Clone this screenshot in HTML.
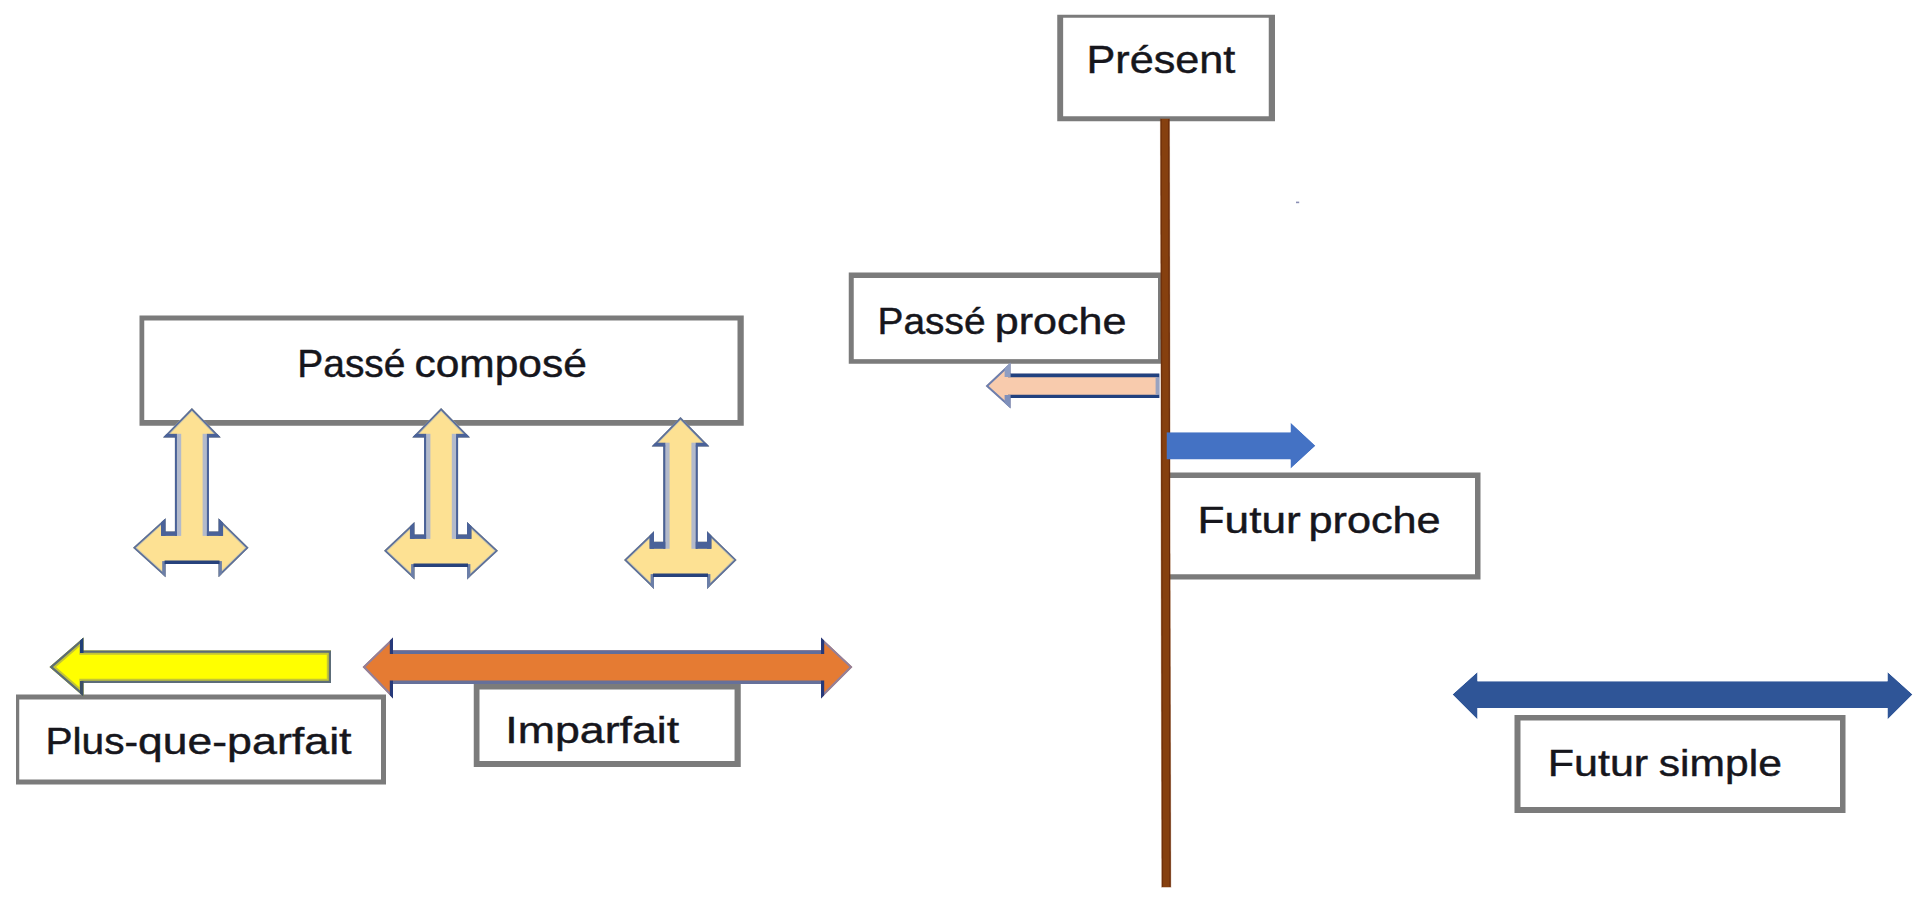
<!DOCTYPE html>
<html lang="fr"><head><meta charset="utf-8"><title>Les temps</title>
<style>
html,body{margin:0;padding:0;background:#fff;}
body{width:1920px;height:906px;overflow:hidden;}
svg{display:block}
text{font-family:"Liberation Sans",sans-serif;fill:#16161c;stroke:#16161c;stroke-width:0.45px;}
</style></head><body>
<svg width="1920" height="906" viewBox="0 0 1920 906">
<rect width="1920" height="906" fill="#fff"/>
<rect x="139.50" y="315.50" width="604.25" height="110.25" fill="#7b7b7b"/><rect x="144.25" y="320.50" width="593.25" height="99.50" fill="#fff"/>
<rect x="1057.25" y="14.75" width="217.75" height="106.50" fill="#7b7b7b"/><rect x="1063.15" y="17.75" width="205.60" height="98.50" fill="#fff"/>
<rect x="848.75" y="272.50" width="314.25" height="91.25" fill="#7b7b7b"/><rect x="853.75" y="278.00" width="304.25" height="81.15" fill="#fff"/>
<rect x="1165.00" y="472.50" width="315.50" height="107.00" fill="#7b7b7b"/><rect x="1170.00" y="478.00" width="305.00" height="96.25" fill="#fff"/>
<rect x="473.75" y="683.00" width="267.00" height="84.00" fill="#7b7b7b"/><rect x="479.50" y="689.50" width="255.05" height="71.50" fill="#fff"/>
<rect x="1514.50" y="715.00" width="331.00" height="98.00" fill="#7b7b7b"/><rect x="1520.50" y="720.50" width="319.50" height="86.50" fill="#fff"/>
<rect x="16.00" y="694.50" width="370.00" height="90.00" fill="#7b7b7b"/><rect x="19.25" y="699.50" width="361.75" height="80.00" fill="#fff"/>
<clipPath id="c1"><polygon points="49.50,667.00 83.50,637.50 83.50,650.50 331.00,650.50 331.00,683.00 83.50,683.00 83.50,696.50"/></clipPath><g clip-path="url(#c1)"><polygon points="49.50,667.00 83.50,637.50 83.50,650.50 331.00,650.50 331.00,683.00 83.50,683.00 83.50,696.50" fill="#ffff00"/><polygon points="49.50,667.00 83.50,637.50 83.50,650.50 331.00,650.50 331.00,683.00 83.50,683.00 83.50,696.50" fill="none" stroke="#c3c437" stroke-width="8.4" stroke-linejoin="miter"/><polygon points="49.50,667.00 83.50,637.50 83.50,650.50 331.00,650.50 331.00,683.00 83.50,683.00 83.50,696.50" fill="none" stroke="#5c6c78" stroke-width="4.4" stroke-linejoin="miter"/><rect x="80.00" y="636.00" width="3.50" height="17.00" fill="#1f3f78"/><rect x="80.00" y="681.00" width="3.50" height="17.00" fill="#3c4f66"/></g>
<clipPath id="c2"><polygon points="362.50,667.00 393.00,637.50 393.00,650.30 821.00,650.30 821.00,637.50 852.50,667.00 821.00,698.50 821.00,684.00 393.00,684.00 393.00,698.50"/></clipPath><g clip-path="url(#c2)"><polygon points="362.50,667.00 393.00,637.50 393.00,650.30 821.00,650.30 821.00,637.50 852.50,667.00 821.00,698.50 821.00,684.00 393.00,684.00 393.00,698.50" fill="#e57b33"/><polygon points="362.50,667.00 393.00,637.50 393.00,650.30 821.00,650.30 821.00,637.50 852.50,667.00 821.00,698.50 821.00,684.00 393.00,684.00 393.00,698.50" fill="none" stroke="#93809a" stroke-width="4.4" stroke-linejoin="miter"/><rect x="393.00" y="650.30" width="428.00" height="3.70" fill="#616d9b"/><rect x="393.00" y="680.50" width="428.00" height="3.50" fill="#66709a"/><rect x="389.80" y="636.00" width="3.20" height="18.00" fill="#26397a"/><rect x="389.80" y="680.50" width="3.20" height="19.50" fill="#26397a"/><rect x="821.00" y="636.00" width="3.20" height="18.00" fill="#26397a"/><rect x="821.00" y="680.50" width="3.20" height="19.50" fill="#26397a"/></g>
<clipPath id="c3"><polygon points="191.90,408.00 220.75,437.60 208.90,437.60 208.90,531.50 218.50,531.50 218.50,518.20 248.60,547.80 218.50,577.20 218.50,564.10 165.60,564.10 165.60,577.20 133.00,547.80 165.60,518.20 165.60,531.50 174.90,531.50 174.90,437.60 163.05,437.60"/></clipPath><g clip-path="url(#c3)"><polygon points="191.90,408.00 220.75,437.60 208.90,437.60 208.90,531.50 218.50,531.50 218.50,518.20 248.60,547.80 218.50,577.20 218.50,564.10 165.60,564.10 165.60,577.20 133.00,547.80 165.60,518.20 165.60,531.50 174.90,531.50 174.90,437.60 163.05,437.60" fill="#fde193"/><polygon points="191.90,408.00 220.75,437.60 208.90,437.60 208.90,531.50 218.50,531.50 218.50,518.20 248.60,547.80 218.50,577.20 218.50,564.10 165.60,564.10 165.60,577.20 133.00,547.80 165.60,518.20 165.60,531.50 174.90,531.50 174.90,437.60 163.05,437.60" fill="none" stroke="#cfc9a8" stroke-width="5.2" stroke-linejoin="miter"/><polygon points="191.90,408.00 220.75,437.60 208.90,437.60 208.90,531.50 218.50,531.50 218.50,518.20 248.60,547.80 218.50,577.20 218.50,564.10 165.60,564.10 165.60,577.20 133.00,547.80 165.60,518.20 165.60,531.50 174.90,531.50 174.90,437.60 163.05,437.60" fill="none" stroke="#5b6f9c" stroke-width="3.4" stroke-linejoin="miter"/><rect x="176.70" y="433.80" width="4.50" height="102.10" fill="#b3bacb"/><rect x="202.60" y="433.80" width="4.50" height="102.10" fill="#b3bacb"/><rect x="174.90" y="436.60" width="2.00" height="99.30" fill="#4a6299"/><rect x="206.90" y="436.60" width="2.00" height="99.30" fill="#4a6299"/><rect x="163.05" y="433.80" width="13.85" height="3.80" fill="#4a6299"/><rect x="206.90" y="433.80" width="13.85" height="3.80" fill="#4a6299"/><rect x="161.60" y="531.50" width="15.30" height="4.40" fill="#4a6299"/><rect x="206.90" y="531.50" width="15.60" height="4.40" fill="#4a6299"/><rect x="161.00" y="516.20" width="4.60" height="19.70" fill="#4a6299"/><rect x="218.50" y="516.20" width="4.60" height="19.70" fill="#4a6299"/><rect x="162.20" y="561.10" width="3.40" height="18.10" fill="#6c7fa8"/><rect x="218.50" y="561.10" width="3.40" height="18.10" fill="#6c7fa8"/><rect x="164.60" y="560.50" width="54.90" height="3.60" fill="#27427c"/></g>
<clipPath id="c4"><polygon points="441.10,408.00 469.95,437.60 458.10,437.60 458.10,534.50 467.00,534.50 467.00,522.10 498.00,550.80 467.00,579.50 467.00,567.10 414.50,567.10 414.50,579.50 384.00,550.80 414.50,522.10 414.50,534.50 424.10,534.50 424.10,437.60 412.25,437.60"/></clipPath><g clip-path="url(#c4)"><polygon points="441.10,408.00 469.95,437.60 458.10,437.60 458.10,534.50 467.00,534.50 467.00,522.10 498.00,550.80 467.00,579.50 467.00,567.10 414.50,567.10 414.50,579.50 384.00,550.80 414.50,522.10 414.50,534.50 424.10,534.50 424.10,437.60 412.25,437.60" fill="#fde193"/><polygon points="441.10,408.00 469.95,437.60 458.10,437.60 458.10,534.50 467.00,534.50 467.00,522.10 498.00,550.80 467.00,579.50 467.00,567.10 414.50,567.10 414.50,579.50 384.00,550.80 414.50,522.10 414.50,534.50 424.10,534.50 424.10,437.60 412.25,437.60" fill="none" stroke="#cfc9a8" stroke-width="5.2" stroke-linejoin="miter"/><polygon points="441.10,408.00 469.95,437.60 458.10,437.60 458.10,534.50 467.00,534.50 467.00,522.10 498.00,550.80 467.00,579.50 467.00,567.10 414.50,567.10 414.50,579.50 384.00,550.80 414.50,522.10 414.50,534.50 424.10,534.50 424.10,437.60 412.25,437.60" fill="none" stroke="#5b6f9c" stroke-width="3.4" stroke-linejoin="miter"/><rect x="425.90" y="433.80" width="4.50" height="105.10" fill="#b3bacb"/><rect x="451.80" y="433.80" width="4.50" height="105.10" fill="#b3bacb"/><rect x="424.10" y="436.60" width="2.00" height="102.30" fill="#4a6299"/><rect x="456.10" y="436.60" width="2.00" height="102.30" fill="#4a6299"/><rect x="412.25" y="433.80" width="13.85" height="3.80" fill="#4a6299"/><rect x="456.10" y="433.80" width="13.85" height="3.80" fill="#4a6299"/><rect x="410.50" y="534.50" width="15.60" height="4.40" fill="#4a6299"/><rect x="456.10" y="534.50" width="14.90" height="4.40" fill="#4a6299"/><rect x="409.90" y="520.10" width="4.60" height="18.80" fill="#4a6299"/><rect x="467.00" y="520.10" width="4.60" height="18.80" fill="#4a6299"/><rect x="411.10" y="564.10" width="3.40" height="17.40" fill="#6c7fa8"/><rect x="467.00" y="564.10" width="3.40" height="17.40" fill="#6c7fa8"/><rect x="413.50" y="563.50" width="54.50" height="3.60" fill="#27427c"/></g>
<clipPath id="c5"><polygon points="680.50,417.00 709.35,446.50 697.70,446.50 697.70,541.80 707.00,541.80 707.00,531.20 736.60,559.90 707.00,589.00 707.00,577.10 654.00,577.10 654.00,589.00 624.00,559.90 654.00,531.20 654.00,541.80 663.30,541.80 663.30,446.50 651.65,446.50"/></clipPath><g clip-path="url(#c5)"><polygon points="680.50,417.00 709.35,446.50 697.70,446.50 697.70,541.80 707.00,541.80 707.00,531.20 736.60,559.90 707.00,589.00 707.00,577.10 654.00,577.10 654.00,589.00 624.00,559.90 654.00,531.20 654.00,541.80 663.30,541.80 663.30,446.50 651.65,446.50" fill="#fde193"/><polygon points="680.50,417.00 709.35,446.50 697.70,446.50 697.70,541.80 707.00,541.80 707.00,531.20 736.60,559.90 707.00,589.00 707.00,577.10 654.00,577.10 654.00,589.00 624.00,559.90 654.00,531.20 654.00,541.80 663.30,541.80 663.30,446.50 651.65,446.50" fill="none" stroke="#cfc9a8" stroke-width="5.2" stroke-linejoin="miter"/><polygon points="680.50,417.00 709.35,446.50 697.70,446.50 697.70,541.80 707.00,541.80 707.00,531.20 736.60,559.90 707.00,589.00 707.00,577.10 654.00,577.10 654.00,589.00 624.00,559.90 654.00,531.20 654.00,541.80 663.30,541.80 663.30,446.50 651.65,446.50" fill="none" stroke="#5b6f9c" stroke-width="3.4" stroke-linejoin="miter"/><rect x="665.10" y="442.70" width="4.50" height="106.10" fill="#b3bacb"/><rect x="691.40" y="442.70" width="4.50" height="106.10" fill="#b3bacb"/><rect x="663.30" y="445.50" width="2.00" height="103.30" fill="#4a6299"/><rect x="695.70" y="445.50" width="2.00" height="103.30" fill="#4a6299"/><rect x="651.65" y="442.70" width="13.65" height="3.80" fill="#4a6299"/><rect x="695.70" y="442.70" width="13.65" height="3.80" fill="#4a6299"/><rect x="650.00" y="541.80" width="15.30" height="7.00" fill="#4a6299"/><rect x="695.70" y="541.80" width="15.30" height="7.00" fill="#4a6299"/><rect x="649.40" y="529.20" width="4.60" height="19.60" fill="#4a6299"/><rect x="707.00" y="529.20" width="4.60" height="19.60" fill="#4a6299"/><rect x="650.60" y="574.10" width="3.40" height="16.90" fill="#6c7fa8"/><rect x="707.00" y="574.10" width="3.40" height="16.90" fill="#6c7fa8"/><rect x="653.00" y="573.50" width="55.00" height="3.60" fill="#27427c"/></g>
<clipPath id="c6"><polygon points="985.60,386.00 1010.60,362.50 1010.60,373.50 1159.40,373.50 1159.40,398.10 1010.60,398.10 1010.60,408.50"/></clipPath><g clip-path="url(#c6)"><polygon points="985.60,386.00 1010.60,362.50 1010.60,373.50 1159.40,373.50 1159.40,398.10 1010.60,398.10 1010.60,408.50" fill="#f8cbad"/><polygon points="985.60,386.00 1010.60,362.50 1010.60,373.50 1159.40,373.50 1159.40,398.10 1010.60,398.10 1010.60,408.50" fill="none" stroke="#6d7fae" stroke-width="4.0" stroke-linejoin="miter"/><rect x="1008.00" y="373.50" width="151.40" height="3.75" fill="#21417f"/><rect x="1008.00" y="394.75" width="151.40" height="3.35" fill="#21417f"/><rect x="1004.60" y="360.00" width="6.00" height="17.00" fill="#8e9dc2"/><rect x="1004.60" y="395.00" width="6.00" height="15.00" fill="#7f90bb"/><rect x="1155.60" y="377.25" width="3.80" height="17.50" fill="#9aa3c0"/></g>
<polygon points="1160.6,119 1169.3,119 1170.6,887 1161.9,887" fill="#86400f" stroke="#86400f" stroke-opacity="0.35" stroke-width="1.4"/>
<polygon points="1160.6,119 1161.8,119 1163.1,887 1161.9,887" fill="#6f300b"/>
<polygon points="1168.3,119 1169.3,119 1170.6,887 1169.6,887" fill="#65280a"/>
<clipPath id="c7"><polygon points="1166.50,432.30 1290.50,432.30 1290.50,422.50 1315.50,445.75 1290.50,468.75 1290.50,459.50 1166.50,459.50"/></clipPath><g clip-path="url(#c7)"><polygon points="1166.50,432.30 1290.50,432.30 1290.50,422.50 1315.50,445.75 1290.50,468.75 1290.50,459.50 1166.50,459.50" fill="#4472c4"/></g>
<clipPath id="c8"><polygon points="1452.50,694.50 1477.50,672.00 1477.50,681.25 1887.50,681.25 1887.50,672.00 1912.50,694.50 1887.50,719.50 1887.50,708.00 1477.50,708.00 1477.50,719.50"/></clipPath><g clip-path="url(#c8)"><polygon points="1452.50,694.50 1477.50,672.00 1477.50,681.25 1887.50,681.25 1887.50,672.00 1912.50,694.50 1887.50,719.50 1887.50,708.00 1477.50,708.00 1477.50,719.50" fill="#2f5597"/></g>
<rect x="1296" y="201.6" width="3.2" height="1.6" fill="#8a8fb5"/>
<g>
<text x="297.31" y="376.6" font-size="38.1" textLength="108.17" lengthAdjust="spacingAndGlyphs">Passé</text><text x="414.44" y="376.6" font-size="38.1" textLength="172.44" lengthAdjust="spacingAndGlyphs">composé</text>
<text x="1086.46" y="72.8" font-size="38.1" textLength="148.86" lengthAdjust="spacingAndGlyphs">Présent</text>
<text x="877.57" y="334.1" font-size="37.2" textLength="107.91" lengthAdjust="spacingAndGlyphs">Passé</text><text x="994.72" y="334.1" font-size="37.2" textLength="131.69" lengthAdjust="spacingAndGlyphs">proche</text>
<text x="1197.63" y="533.0" font-size="37.2" textLength="103.11" lengthAdjust="spacingAndGlyphs">Futur</text><text x="1308.46" y="533.0" font-size="37.2" textLength="132.21" lengthAdjust="spacingAndGlyphs">proche</text>
<text x="45.41" y="754.1" font-size="37.2" textLength="92.64" lengthAdjust="spacingAndGlyphs">Plus-</text><text x="138.14" y="754.1" font-size="37.2" textLength="88.84" lengthAdjust="spacingAndGlyphs">que-</text><text x="227.11" y="754.1" font-size="37.2" textLength="124.46" lengthAdjust="spacingAndGlyphs">parfait</text>
<text x="505.38" y="742.9" font-size="37.8" textLength="173.70" lengthAdjust="spacingAndGlyphs">Imparfait</text>
<text x="1547.72" y="776.1" font-size="37.4" textLength="100.50" lengthAdjust="spacingAndGlyphs">Futur</text><text x="1658.81" y="776.1" font-size="37.4" textLength="123.08" lengthAdjust="spacingAndGlyphs">simple</text>
</g>
</svg>
</body></html>
